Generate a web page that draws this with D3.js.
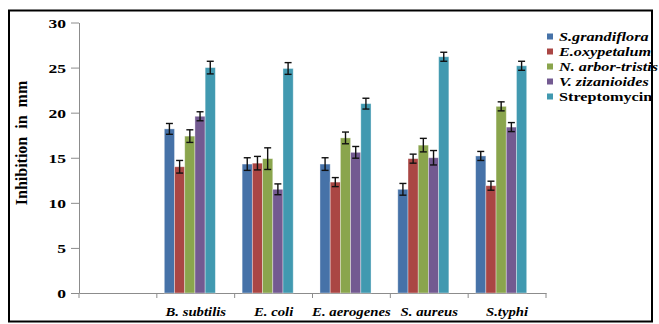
<!DOCTYPE html>
<html>
<head>
<meta charset="utf-8">
<script src="https://cdn.jsdelivr.net/npm/d3@7/dist/d3.min.js"></script>
<style>
  html, body { margin: 0; padding: 0; background: #fff; }
  svg { display: block; }
  text { font-family: "Liberation Serif", "Times New Roman", serif; font-weight: bold; fill: #000; }
</style>
</head>
<body>
<svg id="chart" width="659" height="324"></svg>
<script>
// Categories along the x axis (the first slot is left empty)
const categories = ["", "B. subtilis", "E. coli", "E. aerogenes", "S. aureus", "S.typhi"];
const organisms = ["B. subtilis", "E. coli", "E. aerogenes", "S. aureus", "S.typhi"];

// Series names (legend order)
const seriesNames = ["S.grandiflora", "E.oxypetalum", "N. arbor-tristis", "V. zizanioides", "Streptomycin"];
const seriesItalic = [true, true, true, true, false];
const seriesColors = ["#4672A8", "#AA4644", "#8AA54D", "#735A91", "#4199B0"];

// Zone of inhibition (mm) per organism, one array per series
const grandiflora   = [18.2, 14.3, 14.3, 11.5, 15.2];
const oxypetalum    = [14.0, 14.4, 12.3, 14.9, 11.9];
const arborTristis  = [17.4, 14.9, 17.2, 16.4, 20.7];
const zizanioides   = [19.6, 11.5, 15.6, 15.0, 18.4];
const streptomycin  = [25.0, 24.9, 21.0, 26.2, 25.2];

// Standard error per bar
const grandifloraErr  = [0.6, 0.7, 0.7, 0.65, 0.5];
const oxypetalumErr   = [0.7, 0.75, 0.5, 0.5, 0.5];
const arborTristisErr = [0.7, 1.2, 0.65, 0.75, 0.5];
const zizanioidesErr  = [0.5, 0.6, 0.65, 0.8, 0.5];
const streptomycinErr = [0.7, 0.65, 0.6, 0.5, 0.5];

// Y axis ticks
const yTicks = [0, 5, 10, 15, 20, 25, 30];

const seriesValues = [grandiflora, oxypetalum, arborTristis, zizanioides, streptomycin];
const seriesErrors = [grandifloraErr, oxypetalumErr, arborTristisErr, zizanioidesErr, streptomycinErr];

const svg = d3.select("#chart");

// Outer frame
svg.append("rect")
  .attr("x", 9).attr("y", 10.5)
  .attr("width", 643).attr("height", 311)
  .attr("fill", "none").attr("stroke", "#000").attr("stroke-width", 2);

const x0 = d3.scaleBand().domain(categories).range([79, 546]).padding(0);
const bw = x0.bandwidth();
const x1 = d3.scaleBand().domain(seriesNames).range([bw * 0.096, bw * 0.752]).padding(0);
const y = d3.scaleLinear().domain([0, 30]).range([293, 22.5]);

// Y axis
const yAxis = svg.append("g").attr("transform", "translate(79,0)")
  .call(d3.axisLeft(y).tickValues(yTicks).tickSize(8).tickPadding(5).tickSizeOuter(0));
yAxis.select(".domain").attr("stroke", "#8c8c8c");
yAxis.selectAll(".tick line").attr("stroke", "#8c8c8c");
yAxis.selectAll(".tick text")
  .attr("font-size", 13)
  .attr("font-family", "Liberation Serif, serif")
  .attr("font-weight", "bold")
  .attr("fill", "#000")
  .attr("x", null)
  .attr("dy", null)
  .attr("transform", "translate(-13,4.5) scale(1.35,1)");

// X axis
const xAxis = svg.append("g").attr("transform", "translate(0,293)")
  .call(d3.axisBottom(x0).tickSize(0).tickSizeOuter(0).tickFormat(""));
xAxis.select(".domain").attr("stroke", "#8c8c8c");
xAxis.selectAll(".tick").remove();

// Category boundary ticks
const bounds = categories.map(c => x0(c)).concat([x0.range()[1]]);
svg.append("g").selectAll("line").data(bounds).join("line")
  .attr("x1", d => d).attr("x2", d => d)
  .attr("y1", 293).attr("y2", 298)
  .attr("stroke", "#8c8c8c");

// Category labels
svg.append("g").selectAll("text").data(organisms).join("text")
  .attr("transform", d => `translate(${x0(d) + bw / 2},316) scale(1.18,1)`)
  .attr("text-anchor", "middle")
  .attr("font-size", 12.5)
  .attr("font-style", "italic")
  .text(d => d);

// Bars
const groups = svg.append("g").selectAll("g").data(organisms).join("g")
  .attr("transform", d => `translate(${x0(d)},0)`);

groups.each(function(org, oi) {
  const g = d3.select(this);
  const items = seriesNames.map((s, si) => ({ s, si, v: seriesValues[si][oi], e: seriesErrors[si][oi] }));
  g.selectAll("rect").data(items).join("rect")
    .attr("x", d => x1(d.s))
    .attr("y", d => y(d.v))
    .attr("width", x1.bandwidth())
    .attr("height", d => y(0) - y(d.v))
    .attr("fill", d => seriesColors[d.si])
    .attr("stroke", "rgba(255,255,255,0.45)")
    .attr("stroke-width", 0.8);

  const eb = g.selectAll("g.err").data(items).join("g").attr("class", "err");
  const cx = d => x1(d.s) + x1.bandwidth() / 2;
  eb.append("line")
    .attr("x1", cx).attr("x2", cx)
    .attr("y1", d => y(d.v + d.e)).attr("y2", d => y(d.v - d.e))
    .attr("stroke", "#111").attr("stroke-width", 1.4);
  eb.append("line")
    .attr("x1", d => cx(d) - 3.5).attr("x2", d => cx(d) + 3.5)
    .attr("y1", d => y(d.v + d.e)).attr("y2", d => y(d.v + d.e))
    .attr("stroke", "#111").attr("stroke-width", 1.4);
  eb.append("line")
    .attr("x1", d => cx(d) - 3.5).attr("x2", d => cx(d) + 3.5)
    .attr("y1", d => y(d.v - d.e)).attr("y2", d => y(d.v - d.e))
    .attr("stroke", "#111").attr("stroke-width", 1.4);
});

// Y axis title
svg.append("text")
  .attr("transform", "translate(27,143) rotate(-90)")
  .attr("text-anchor", "middle")
  .attr("font-size", 16)
  .style("white-space", "pre")
  .text("Inhibition  in  mm");

// Legend
const legend = svg.append("g").selectAll("g").data(seriesNames).join("g")
  .attr("transform", (d, i) => `translate(547,${36.5 + i * 15})`);
legend.append("rect")
  .attr("x", 0).attr("y", -3).attr("width", 6).attr("height", 6)
  .attr("fill", (d, i) => seriesColors[i]);
legend.append("text")
  .attr("transform", "translate(12,4.5) scale(1.2,1)")
  .attr("font-size", 13.5)
  .attr("font-style", (d, i) => seriesItalic[i] ? "italic" : "normal")
  .text(d => d);
</script>
</body>
</html>
